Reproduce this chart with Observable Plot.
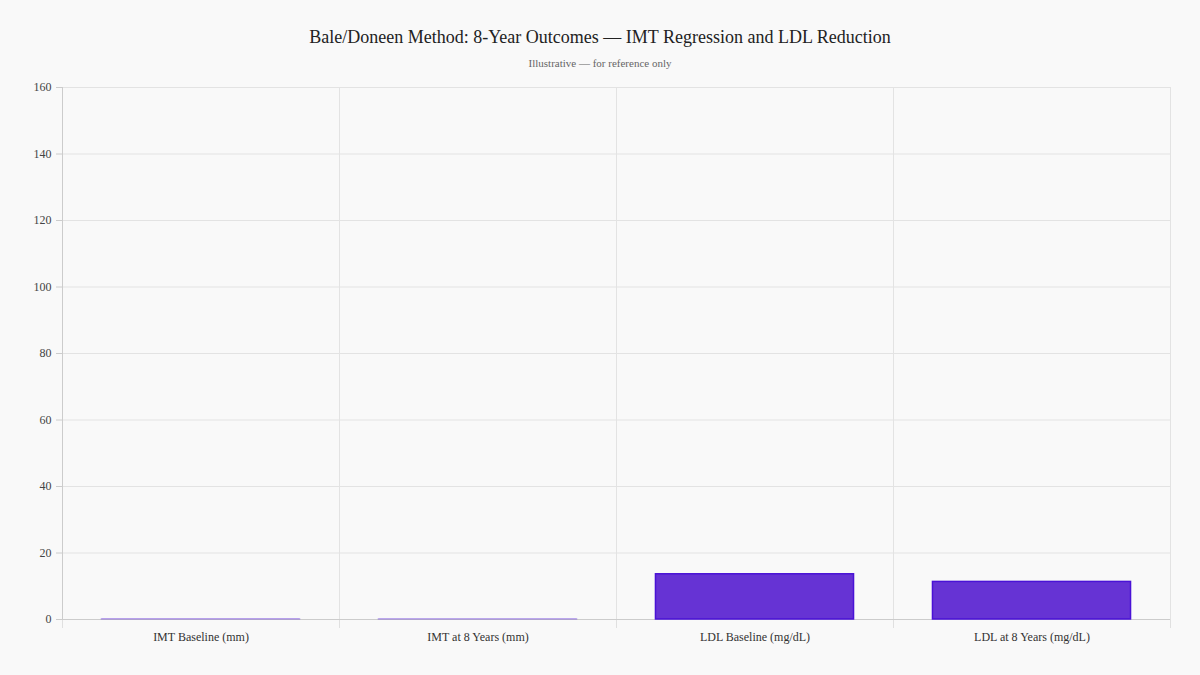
<!DOCTYPE html>
<html>
<head>
<meta charset="utf-8">
<script src="https://cdn.jsdelivr.net/npm/d3@7"></script>
<script src="https://cdn.jsdelivr.net/npm/@observablehq/plot@0.6"></script>
<style>
  html, body { margin: 0; padding: 0; background: #f9f9f9; }
  body { width: 1200px; height: 675px; overflow: hidden; font-family: "Times New Roman", Times, "Liberation Serif", serif; }
  #head { height: 75px; text-align: center; position: relative; }
  #title { position: absolute; left: 0; right: 0; top: 27px; font-size: 18px; color: #222; }
  #subtitle { position: absolute; left: 0; right: 0; top: 57px; font-size: 11px; color: #666; }
  svg { display: block; }
</style>
</head>
<body>
<div id="head">
  <div id="title">Bale/Doneen Method: 8-Year Outcomes — IMT Regression and LDL Reduction</div>
  <div id="subtitle">Illustrative — for reference only</div>
</div>
<div id="chart"></div>
<script>
const categories = ["IMT Baseline (mm)", "IMT at 8 Years (mm)", "LDL Baseline (mg/dL)", "LDL at 8 Years (mg/dL)"];
const values = [0.05, 0.04, 13.6, 11.3];
const yTicks = [0, 20, 40, 60, 80, 100, 120, 140, 160];

const data = categories.map((c, i) => ({category: c, index: i, value: values[i]}));
const pad = 0.1425; // band padding on each side of a bar
const boundaries = d3.range(categories.length + 1);
const centers = categories.map((c, i) => i + 0.5);
const FONT = "'Times New Roman', Times, 'Liberation Serif', serif";

const chart = Plot.plot({
  width: 1200,
  height: 600,
  marginTop: 12,
  marginBottom: 56,
  marginLeft: 62,
  marginRight: 30,
  style: {background: "transparent", fontFamily: FONT, fontSize: "12px", color: "#444"},
  x: {type: "linear", domain: [0, categories.length], axis: null, label: null},
  y: {type: "linear", domain: [0, 160], axis: null, label: null},
  marks: [
    Plot.ruleY(yTicks, {stroke: "#e3e3e3", strokeWidth: 1}),
    Plot.ruleX(boundaries, {y1: 160, y2: 0, stroke: "#e3e3e3", strokeWidth: 1}),
    Plot.axisX(boundaries, {tickSize: 9, stroke: "#e0e0e0", tickFormat: () => "", anchor: "bottom", label: null}),
    Plot.axisX(centers, {tickSize: 0, tickPadding: 13, tickFormat: (d) => categories[Math.floor(d)], fontSize: 12, fill: "#333", anchor: "bottom", label: null}),
    Plot.axisY(yTicks, {tickSize: 6, tickPadding: 5, stroke: "#cccccc", fill: "#444", fontSize: 12, anchor: "left", label: null}),
    Plot.ruleX([0], {stroke: "#cccccc"}),
    Plot.ruleY([0], {stroke: "#cccccc"}),
    Plot.rectY(data, {
      x1: d => d.index + pad,
      x2: d => d.index + 1 - pad,
      y: "value",
      fill: "#6633d4",
      stroke: "#4a12d6",
      strokeWidth: 1.5,
      strokeOpacity: d => d.value < 1 ? 0.3 : 1
    })
  ]
});
document.getElementById("chart").appendChild(chart);
</script>
</body>
</html>
